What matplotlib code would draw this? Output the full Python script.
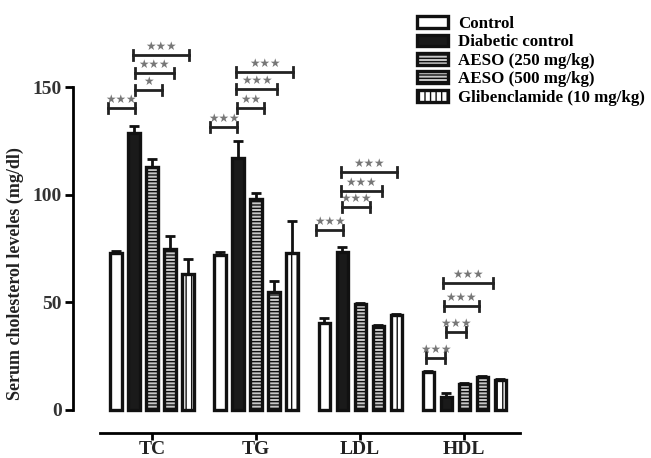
import numpy as np
import matplotlib
matplotlib.use("Agg")
import matplotlib.pyplot as plt

plt.rcParams['font.family'] = ['Liberation Serif', 'DejaVu Serif']
plt.rcParams['hatch.linewidth'] = 1.0

categories = ["TC", "TG", "LDL", "HDL"]
groups = ["Control", "Diabetic control", "AESO (250 mg/kg)",
          "AESO (500 mg/kg)", "Glibenclamide (10 mg/kg)"]

# mean values per group, one list per treatment (TC, TG, LDL, HDL)
control = [73, 72, 40.5, 17.5]
diabetic = [128.5, 117, 73.5, 6]
aeso250 = [113, 98, 49, 12]
aeso500 = [75, 55, 39, 15.5]
glib = [63, 73, 44, 14]

# upper error (SEM)
control_err = [1, 1.5, 2, 0.5]
diabetic_err = [3.5, 8, 2, 2]
aeso250_err = [3.5, 3, 0.5, 0.5]
aeso500_err = [6, 5, 0.5, 0.5]
glib_err = [7, 15, 0.5, 0.5]

# significance brackets: (category, x offsets from group centre, height, label)
brackets = [
    (0, -2.45, -0.95, 140.3, "★★★"),
    (0, -0.95, 0.55, 148.6, "★"),
    (0, -0.95, 1.2, 156.5, "★★★"),
    (0, -1.05, 2.05, 164.9, "★★★"),
    (1, -2.55, -1.05, 131.4, "★★★"),
    (1, -1.05, 0.45, 140.3, "★★"),
    (1, -1.1, 1.15, 149.1, "★★★"),
    (1, -1.1, 2.05, 157.0, "★★★"),
    (2, -2.45, -0.95, 83.6, "★★★"),
    (2, -1.0, 0.55, 94.3, "★★★"),
    (2, -1.05, 1.2, 101.7, "★★★"),
    (2, -1.05, 2.05, 110.5, "★★★"),
    (3, -2.1, -1.05, 24.2, "★★★"),
    (3, -1.0, 0.1, 36.2, "★★★"),
    (3, -1.1, 0.8, 48.3, "★★★"),
    (3, -1.15, 1.6, 59.0, "★★★"),
]

values = [control, diabetic, aeso250, aeso500, glib]
errors = [control_err, diabetic_err, aeso250_err, aeso500_err, glib_err]
styles = [
    dict(facecolor="white", hatch=None),
    dict(facecolor="#1a1a1a", hatch=None),
    dict(facecolor="#c8c8c8", hatch="-----"),
    dict(facecolor="#c8c8c8", hatch="-----"),
    dict(facecolor="white", hatch="|||"),
]

gap = 5.78
centres = np.arange(len(categories)) * gap

fig = plt.figure(figsize=(6.51, 4.58), dpi=100)
ax = fig.add_axes([0.1121, 0.0546, 0.6866, 0.8799])

bar_handles = []
for k in range(5):
    xs = centres + (k - 2)
    b = ax.bar(xs, values[k], width=0.62, color=styles[k]["facecolor"],
               edgecolor="#111111", linewidth=2.4, hatch=styles[k]["hatch"],
               label=groups[k], zorder=2)
    bar_handles.append(b)
    ax.errorbar(xs, values[k], yerr=[np.zeros(4), errors[k]], fmt="none",
                ecolor="#111111", elinewidth=2, capsize=3.5, capthick=2,
                zorder=1)

for cat, x0, x1, h, lab in brackets:
    xa = centres[cat] + x0
    xb = centres[cat] + x1
    ax.plot([xa, xb], [h, h], color="#222222", lw=2, zorder=3)
    ax.plot([xa, xa], [h - 2.5, h + 2.5], color="#222222", lw=2, zorder=3)
    ax.plot([xb, xb], [h - 2.5, h + 2.5], color="#222222", lw=2, zorder=3)
    ax.text((xa + xb) / 2, h + 1.0, lab, ha="center", va="bottom",
            fontsize=8.5, color="#777777", family="DejaVu Sans")

ax.set_xlim(-4.39, 20.44)
ax.set_ylim(-10.7, 176.5)

ax.spines["top"].set_visible(False)
ax.spines["right"].set_visible(False)
ax.spines["left"].set_bounds(0, 150)
ax.spines["left"].set_linewidth(2)
ax.spines["bottom"].set_position(("data", -10.7))
ax.spines["bottom"].set_bounds(-2.89, 20.44)
ax.spines["bottom"].set_linewidth(2)

ax.set_yticks([0, 50, 100, 150])
ax.set_yticklabels(["0", "50", "100", "150"], fontsize=14, fontweight="bold",
                   color="#333333")
ax.set_xticks(centres)
ax.set_xticklabels(categories, fontsize=14, fontweight="bold", color="#222222")
ax.tick_params(axis="both", width=2, length=6)
ax.tick_params(axis="x", length=5, pad=1)
ax.tick_params(axis="y", pad=2)

ax.set_ylabel("Serum cholesterol leveles (mg/dl)", fontsize=13,
              fontweight="bold", color="#222222")
ax.yaxis.set_label_coords(-0.11, 0.395)

leg = fig.legend(handles=bar_handles, loc="upper left",
                 bbox_to_anchor=(0.6406, 0.965), frameon=False,
                 prop=dict(size=12.2, weight="bold"), handlelength=1.8,
                 handleheight=0.7, handletextpad=0.63, labelspacing=0.14,
                 borderpad=0, borderaxespad=0)

fig.savefig("out.png", dpi=100)
